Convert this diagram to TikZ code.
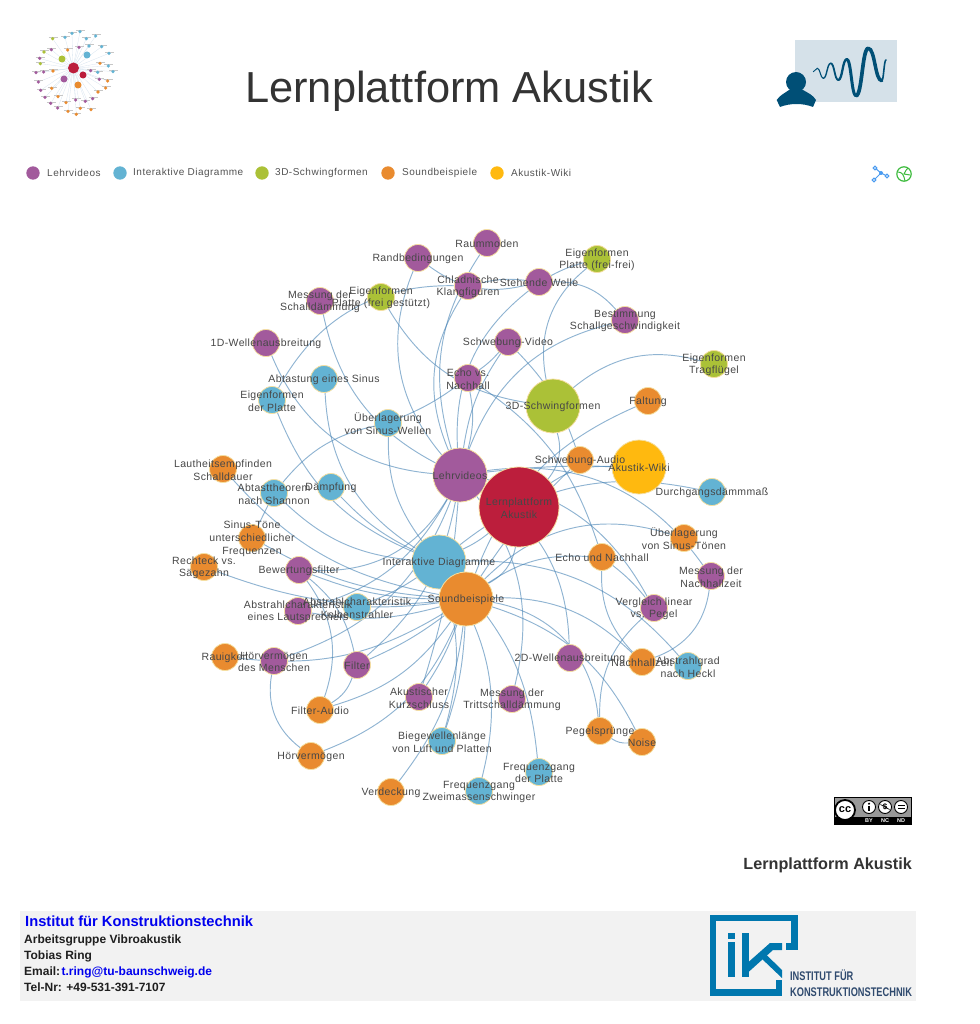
\documentclass[tikz,border=0pt]{standalone}
\usepackage{fontspec}
\setmainfont{Liberation Sans}
\newfontfamily\lab[LetterSpace=3.5]{Liberation Sans}
\newfontfamily\legfont[LetterSpace=5]{Liberation Sans}
\usetikzlibrary{backgrounds,calc}
\definecolor{cP}{HTML}{A25A9C}
\definecolor{cB}{HTML}{63B3D3}
\definecolor{cG}{HTML}{ABC137}
\definecolor{cO}{HTML}{E98B2F}
\definecolor{cY}{HTML}{FFB90F}
\definecolor{cR}{HTML}{BC1E3C}
\definecolor{rim}{HTML}{F5DFA0}
\definecolor{linkc}{HTML}{4682B4}
\definecolor{navy}{HTML}{004F76}
\definecolor{ikblue}{HTML}{0077AE}
\tikzset{
 gnode/.style={circle,inner sep=0,outer sep=0,draw=rim,line width=.8pt},
 small/.style={gnode,minimum size=27pt},
 big/.style={gnode,minimum size=54pt},
 link/.style={draw=linkc,draw opacity=.6,line width=.95pt},
 lbl/.style={text=black!72,align=center,inner sep=0,font=\lab\fontsize{10.5}{12.7}\selectfont},
 leg/.style={text=black!68,anchor=west,inner sep=0,font=\legfont\fontsize{10}{12}\selectfont},
 info/.style={anchor=base west,inner sep=0,text=black!88,font=\bfseries\fontsize{12}{14}\selectfont},
 wave/.style={draw=navy,line cap=round},
 mini/.style={circle,inner sep=0,minimum size=3.6pt},
 ccring/.style={circle,fill=white,draw=black,line width=.9pt,inner sep=0,minimum size=13pt},
 cctext/.style={text=white,inner sep=0,font=\bfseries\fontsize{5.5}{6}\selectfont}
}
\newcommand{\gn}[6]{\node[#4,fill=#5] (#1) at (#2,#3) {};
  \expandafter\def\csname lb@#1\endcsname{#6}}
\begin{document}
\begin{tikzpicture}[x=1pt,y=-1pt]
\useasboundingbox (0,0) rectangle (979,1024);

% ---------- title and logos
\node[inner sep=0,text=black!80,font=\fontsize{43.4}{48}\selectfont] (title) at (449,91) {Lernplattform Akustik};

\begin{scope}
\foreach \zx/\zy in {210/35,186/40,165/52,229/56,257/48,275/80,297/100,237/78,263/157,295/138,309/155,128/56,102/96,91/131,124/89,207/82,89/115,101/156,78/158,85/186,92/211,105/232,122/250,143/264,197/240,226/244,248/236,242/152,268/178,173/90,129/153,125/205,144/230,168/248,174/274,199/283,211/265,243/269,264/216,287/204,293/183,270/130}
  {\draw[linkc!22,line width=.3pt] (73,68) -- ({10+\zx/3},{20+\zy/3});
   \draw[black!22,line width=.5pt] ({10+\zx/3-4},{20+\zy/3-1.5}) -- ({10+\zx/3+5},{20+\zy/3-1.5});}
\foreach \zx/\zy in {210/35,186/40,165/52,229/56,257/48,275/80,297/100,237/78,263/157,295/138,309/155}
  \node[mini,fill=cB] at ({10+\zx/3},{20+\zy/3}) {};
\foreach \zx/\zy in {128/56,102/96,91/131}
  \node[mini,fill=cG] at ({10+\zx/3},{20+\zy/3}) {};
\foreach \zx/\zy in {124/89,207/82,89/115,101/156,78/158,85/186,92/211,105/232,122/250,143/264,197/240,226/244,248/236,242/152,268/178}
  \node[mini,fill=cP] at ({10+\zx/3},{20+\zy/3}) {};
\foreach \zx/\zy in {173/90,129/153,125/205,144/230,168/248,174/274,199/283,211/265,243/269,264/216,287/204,293/183,270/130}
  \node[mini,fill=cO] at ({10+\zx/3},{20+\zy/3}) {};
\node[mini,minimum size=11pt,fill=cR] at (73.5,68) {};
\node[mini,minimum size=7pt,fill=cR] at (83,75) {};
\node[mini,minimum size=7pt,fill=cB] at (87,55) {};
\node[mini,minimum size=7pt,fill=cG] at (62,59) {};
\node[mini,minimum size=7pt,fill=cP] at (64,79) {};
\node[mini,minimum size=7pt,fill=cO] at (78,85) {};
\end{scope}

\fill[fill={rgb,255:red,213;green,225;blue,233}] (795,40) rectangle (897,102);
\foreach \ax/\ay/\bx/\by/\w in {813.3/71.7/817.3/68.3/.9,817.3/68.3/823.3/78.3/1.1,823.3/78.3/830.7/63.3/1.4,830.7/63.3/838.3/80/1.8,838.3/80/846.7/59.3/2.3,846.7/59.3/856/95.7/3,856/95.7/868.3/48.3/3.7,868.3/48.3/881.7/80.7/3.5,881.7/80.7/886/60/1.6}
  \draw[wave,line width=\w pt] (\ax,\ay) .. controls ({\ax+.5*(\bx-\ax)},\ay) and ({\bx-.5*(\bx-\ax)},\by) .. (\bx,\by);
\fill[navy] (796,82) circle (10);
\fill[navy] (776.7,100) .. controls (780,95) and (785,93) .. (789,90) -- (803,90) .. controls (808,93) and (813,95) .. (816,100) -- (813,107) .. controls (803,103) and (790,103) .. (780,107) -- cycle;

% ---------- legend
\foreach \cx/\tx/\col/\txt in {33/47/cP/Lehrvideos,120/133/cB/Interaktive Diagramme,262/275/cG/3D-Schwingformen,388/402/cO/Soundbeispiele,497/511/cY/Akustik-Wiki}{
  \fill[\col] (\cx,173) circle (6.7);
  \node[leg] at (\tx,172.5) {\txt};
}
% icons
\draw[color={rgb,255:red,74;green,155;blue,240},line width=1pt] (875,168) -- (881,173) -- (874,180) (881,173) -- (887,176);
\fill[color={rgb,255:red,74;green,155;blue,240}] (881,173) circle (2);
\foreach \ix/\iy in {875/168,874/180,887/176}
  \draw[color={rgb,255:red,74;green,155;blue,240},fill=white,line width=1pt] (\ix,\iy) circle (1.9);
\draw[color={rgb,255:red,61;green,187;blue,61},line width=1.2pt] (904,174) circle (7.2);
\draw[color={rgb,255:red,61;green,187;blue,61},line width=1pt] (898,172) .. controls (902,172) and (904,175) .. (905,181) (904,174) .. controls (905,171) and (907,169) .. (908,168) (904,174) -- (910,175);

% ---------- graph nodes
\gn{lp}{519}{507}{gnode,minimum size=80pt}{cR}{Lernplattform\\Akustik}
\gn{lv}{460}{475}{big}{cP}{Lehrvideos}
\gn{id}{439}{562}{big}{cB}{Interaktive Diagramme}
\gn{sb}{466}{599}{big}{cO}{Soundbeispiele}
\gn{td}{553}{406}{big}{cG}{3D-Schwingformen}
\gn{wk}{639}{467}{big}{cY}{Akustik-Wiki}
\gn{raum}{487}{243}{small}{cP}{Raummoden}
\gn{rand}{418}{258}{small}{cP}{Randbedingungen}
\gn{chl}{468}{286}{small}{cP}{Chladnische\\Klangfiguren}
\gn{ste}{539}{282}{small}{cP}{Stehende Welle}
\gn{eff}{597}{259}{small}{cG}{Eigenformen\\Platte (frei-frei)}
\gn{msd}{320}{301}{small}{cP}{Messung der\\Schalldämmung}
\gn{efg}{381}{297}{small}{cG}{Eigenformen\\Platte (frei gestützt)}
\gn{bes}{625}{320}{small}{cP}{Bestimmung\\Schallgeschwindigkeit}
\gn{wa}{266}{343}{small}{cP}{1D-Wellenausbreitung}
\gn{sv}{508}{342}{small}{cP}{Schwebung-Video}
\gn{eft}{714}{364}{small}{cG}{Eigenformen\\Tragflügel}
\gn{abs}{324}{379}{small}{cB}{Abtastung eines Sinus}
\gn{evn}{468}{378}{small}{cP}{Echo vs.\\Nachhall}
\gn{efp}{272}{400}{small}{cB}{Eigenformen\\der Platte}
\gn{fal}{648}{401}{small}{cO}{Faltung}
\gn{usw}{388}{423}{small}{cB}{Überlagerung\\von Sinus-Wellen}
\gn{sa}{580}{460}{small}{cO}{Schwebung-Audio}
\gn{lau}{223}{469}{small}{cO}{Lautheitsempfinden\\Schalldauer}
\gn{ats}{274}{493}{small}{cB}{Abtasttheorem\\nach Shannon}
\gn{dae}{331}{487}{small}{cB}{Dämpfung}
\gn{dgd}{712}{492}{small}{cB}{Durchgangsdämmmaß}
\gn{ust}{684}{538}{small}{cO}{Überlagerung\\von Sinus-Tönen}
\gn{sit}{252}{538}{small}{cO}{Sinus-Töne\\unterschiedlicher\\Frequenzen}
\gn{eun}{602}{557}{small}{cO}{Echo und Nachhall}
\gn{bew}{299}{570}{small}{cP}{Bewertungsfilter}
\gn{rec}{204}{567}{small}{cO}{Rechteck vs.\\Sägezahn}
\gn{mnz}{711}{576}{small}{cP}{Messung der\\Nachhallzeit}
\gn{acl}{298}{611}{small}{cP}{Abstrahlcharakteristik\\eines Lautsprechers}
\gn{ack}{357}{607}{small}{cB}{Abstrahlcharakteristik\\Kolbenstrahler}
\gn{vlp}{654}{608}{small}{cP}{Vergleich linear\\vs. Pegel}
\gn{rau}{225}{657}{small}{cO}{Rauigkeit}
\gn{hdm}{274}{661}{small}{cP}{Hörvermögen\\des Menschen}
\gn{fil}{357}{665}{small}{cP}{Filter}
\gn{wb}{570}{658}{small}{cP}{2D-Wellenausbreitung}
\gn{nhz}{642}{662}{small}{cO}{Nachhallzeit}
\gn{ahk}{688}{666}{small}{cB}{Abstrahlgrad\\nach Heckl}
\gn{aks}{419}{697}{small}{cP}{Akustischer\\Kurzschluss}
\gn{mts}{512}{699}{small}{cP}{Messung der\\Trittschalldämmung}
\gn{fia}{320}{710}{small}{cO}{Filter-Audio}
\gn{bwl}{442}{741}{small}{cB}{Biegewellenlänge\\von Luft und Platten}
\gn{peg}{600}{731}{small}{cO}{Pegelsprünge}
\gn{noi}{642}{742}{small}{cO}{Noise}
\gn{hoe}{311}{756}{small}{cO}{Hörvermögen}
\gn{fqp}{539}{772}{small}{cB}{Frequenzgang\\der Platte}
\gn{ver}{391}{792}{small}{cO}{Verdeckung}
\gn{fqz}{479}{791}{small}{cB}{Frequenzgang\\Zweimassenschwinger}

% ---------- connectors
\begin{scope}[on background layer]
\foreach \a/\b/\s in {
 lp/lv/0,lp/id/5,lp/sb/20,lp/td/-22,lp/wk/15,
 lv/rand/25,lv/raum/20,lv/chl/22,lv/ste/22,lv/sv/10,lv/evn/-10,lv/bes/22,lv/wa/25,lv/msd/20,
 lv/bew/25,lv/acl/18,lv/hdm/20,lv/fil/15,lv/aks/5,lv/mts/20,lv/wb/22,lv/mnz/25,lv/vlp/20,lv/wk/3,
 id/abs/22,id/efp/18,id/usw/15,id/ats/15,id/dae/8,id/dgd/20,id/ack/5,id/ahk/20,id/bwl/12,id/fqp/15,id/fqz/18,
 sb/fal/18,sb/sa/5,sb/lau/15,sb/ust/25,sb/sit/10,sb/eun/15,sb/rec/10,sb/rau/15,sb/nhz/18,sb/fia/15,sb/hoe/18,sb/ver/12,
 sb/noi/18,sb/peg/30,sb/ack/3,sb/acl/10,sb/bew/8,sb/fil/5,sb/aks/5,sb/bwl/6,
 td/eff/25,td/efg/20,td/eft/22,
 efp/chl/25,rand/ste/-20,chl/ste/8,ste/eff/5,ste/bes/20,
 sv/sa/10,sv/evn/5,evn/eun/15,evn/usw/5,
 eun/vlp/5,eun/nhz/-18,vlp/peg/-20,mnz/nhz/25,
 bew/fil/15,bew/fia/22,fil/fia/15,hdm/hoe/-25,peg/noi/-15,ats/usw/15,ats/sit/0
}{\pgfmathsetmacro{\bnd}{1.25*\s}\draw[link] (\a) to[bend left=\bnd] (\b);}
\end{scope}

% ---------- labels
\foreach \n in {lp,lv,id,sb,td,wk,raum,rand,chl,ste,eff,msd,efg,bes,wa,sv,eft,abs,evn,efp,fal,usw,sa,lau,ats,dae,dgd,ust,sit,eun,bew,rec,mnz,acl,ack,vlp,rau,hdm,fil,wb,nhz,ahk,aks,mts,fia,bwl,peg,noi,hoe,fqp,ver,fqz}
  {\node[lbl] (\n-t) at ([yshift=-.9pt]\n) {\csname lb@\n\endcsname};}

% ---------- licence badge
\fill[black] (834,797) rectangle (912,825);
\fill[black!40] (835,798) rectangle (911,817);
\node[ccring,minimum size=20pt,line width=1.8pt] (cc) at (845,810) {};
\node[inner sep=0,font=\bfseries\fontsize{11}{11}\selectfont] (cc-t) at (845,809.5) {cc};
\node[ccring] (by) at (869,807) {};
\fill (869,803.7) circle (1.2);
\fill (867.7,805.5) rectangle (870.3,810.5);
\node[ccring] (nc) at (885,807) {};
\node[inner sep=0,font=\bfseries\fontsize{8}{8}\selectfont] (nc-t) at (885,807) {\$};
\draw[line width=.7pt] (880.5,804.5) -- (889.5,809.5);
\node[ccring] (nd) at (901,807) {};
\fill (897.5,804.8) rectangle (904.5,806.3);
\fill (897.5,807.8) rectangle (904.5,809.3);
\node[cctext] (by-t) at (869,821) {BY};
\node[cctext] (nc-t2) at (885,821) {NC};
\node[cctext] (nd-t) at (901,821) {ND};

\node[anchor=base east,inner sep=0,text=black!80,font=\bfseries\fontsize{16.2}{18}\selectfont] (sub) at (912,869) {Lernplattform Akustik};

% ---------- footer
\fill[black!5] (20,911) rectangle (916,1001);
\node[anchor=base west,inner sep=0,text={rgb,255:red,0;green,0;blue,238},font=\bfseries\fontsize{14.7}{16}\selectfont] (ifk) at (25,926) {Institut für Konstruktionstechnik};
\node[info] (ag) at (24,943) {Arbeitsgruppe Vibroakustik};
\node[info] (tr) at (24,959) {Tobias Ring};
\node[info] (em) at (24,975) {Email:\hspace{.12em}\textcolor[RGB]{0,0,238}{t.ring@tu-baunschweig.de}};
\node[info] (te) at (24,991) {Tel-Nr: +49-531-391-7107};

% IK logo
\draw[ikblue,line width=6.5pt,line join=miter] (779,980) -- (779,992.7) -- (713.2,992.7) -- (713.2,918.2) -- (794.7,918.2) -- (794.7,946.7) -- (786,946.7);
\fill[ikblue] (728,933) rectangle (735,939);
\fill[ikblue] (728,942) rectangle (735,977);
\fill[ikblue] (742,933) rectangle (748.5,977);
\fill[ikblue] (748.5,962) -- (770,943) -- (782,943) -- (782,950) -- (773,950) -- (748.5,972) -- cycle;
\fill[ikblue] (761,958) -- (765.5,954) -- (782,970) -- (782,978) -- cycle;
\node[anchor=base west,inner sep=0,xscale=.74,text={rgb,255:red,47;green,74;blue,110},font=\bfseries\fontsize{12.5}{14}\selectfont] (ik1) at (790,980.5) {INSTITUT FÜR};
\node[anchor=base west,inner sep=0,xscale=.74,text={rgb,255:red,47;green,74;blue,110},font=\bfseries\fontsize{12.5}{14}\selectfont] (ik2) at (790,996) {KONSTRUKTIONSTECHNIK};
\end{tikzpicture}
\end{document}
